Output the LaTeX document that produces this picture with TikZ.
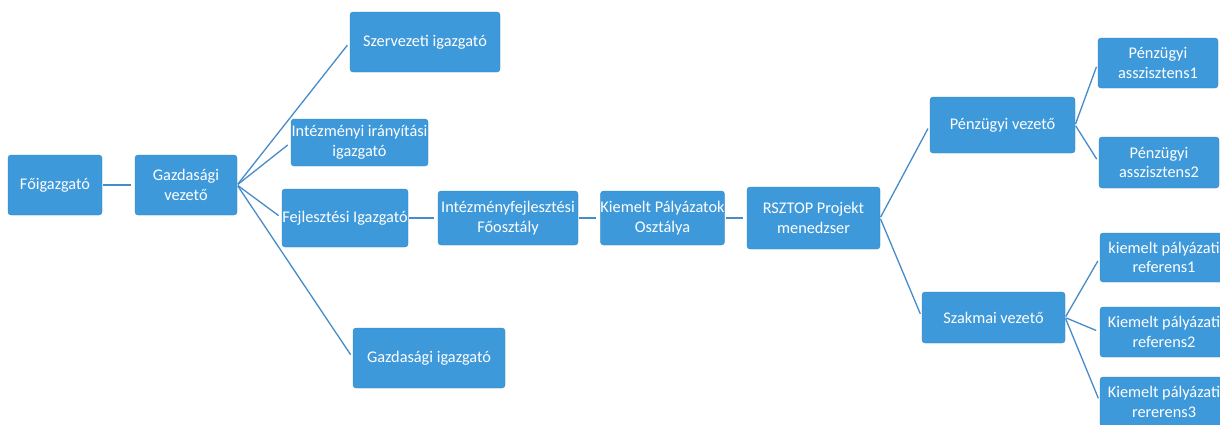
\documentclass[tikz,border=0pt]{standalone}
\usepackage{fontspec}
\setmainfont{Carlito}
\definecolor{boxblue}{RGB}{62,153,218}
\definecolor{lineblue}{RGB}{70,140,200}
\begin{document}
\begin{tikzpicture}[x=1pt,y=-1pt,
  box/.style={fill=boxblue, draw=boxblue!85!black, line width=0.3pt, rounded corners=3pt,
    text=white, align=center, inner sep=0pt, font=\fontsize{16.3}{19.5}\selectfont},
  conn/.style={draw=lineblue, line width=1.3pt, shorten >=4pt, shorten <=1pt}]
\useasboundingbox (0,0) rectangle (1220,424);
\clip (0,0) rectangle (1220,424);
\fill[white] (0,0) rectangle (1220,424);
% nodes
\node[box, minimum width=94pt, minimum height=60pt] (fo) at (55,185) {Főigazgató};
\node[box, minimum width=102pt, minimum height=60pt] (gv) at (186,185) {Gazdasági\\vezető};
\node[box, minimum width=150pt, minimum height=60pt] (szi) at (425,42) {Szervezeti igazgató};
\node[box, minimum width=137pt, minimum height=47pt] (iri) at (359.5,142.5) {Intézményi irányítási\\igazgató};
\node[box, minimum width=126pt, minimum height=58pt] (fi) at (345,218) {Fejlesztési Igazgató};
\node[box, minimum width=152pt, minimum height=60pt] (gi) at (429,358) {Gazdasági igazgató};
\node[box, minimum width=140pt, minimum height=54pt] (if) at (508,218) {Intézményfejlesztési\\Főosztály};
\node[box, minimum width=123pt, minimum height=54pt] (kp) at (662.5,218) {Kiemelt Pályázatok\\Osztálya};
\node[box, minimum width=133pt, minimum height=62pt] (rs) at (813.5,218) {RSZTOP Projekt\\menedzser};
\node[box, minimum width=145pt, minimum height=56pt] (pv) at (1002.5,125) {Pénzügyi vezető};
\node[box, minimum width=143pt, minimum height=51pt] (sv) at (993.5,317.5) {Szakmai vezető};
\node[box, minimum width=120pt, minimum height=50pt] (pa1) at (1158,63) {Pénzügyi\\asszisztens1};
\node[box, minimum width=120pt, minimum height=51pt] (pa2) at (1159,162.5) {Pénzügyi\\asszisztens2};
\node[box, minimum width=128pt, minimum height=49pt] (r1) at (1164,257.5) {kiemelt pályázati\\referens1};
\node[box, minimum width=128pt, minimum height=50pt] (r2) at (1164,332) {Kiemelt pályázati\\referens2};
\node[box, minimum width=128pt, minimum height=50pt] (r3) at (1164,402) {Kiemelt pályázati\\rererens3};
% connectors
\draw[conn] (fo.east) -- (gv.west);
\draw[conn] (gv.east) -- (szi.west);
\draw[conn] (gv.east) -- (iri.west);
\draw[conn] (gv.east) -- (fi.west);
\draw[conn] (gv.east) -- (gi.west);
\draw[conn] (fi.east) -- (if.west);
\draw[conn] (if.east) -- (kp.west);
\draw[conn] (kp.east) -- (rs.west);
\draw[conn] (rs.east) -- (pv.west);
\draw[conn] (rs.east) -- (sv.west);
\draw[conn] (pv.east) -- (pa1.west);
\draw[conn] (pv.east) -- (pa2.west);
\draw[conn] (sv.east) -- (r1.west);
\draw[conn] (sv.east) -- (r2.west);
\draw[conn] (sv.east) -- (r3.west);
\end{tikzpicture}
\end{document}
